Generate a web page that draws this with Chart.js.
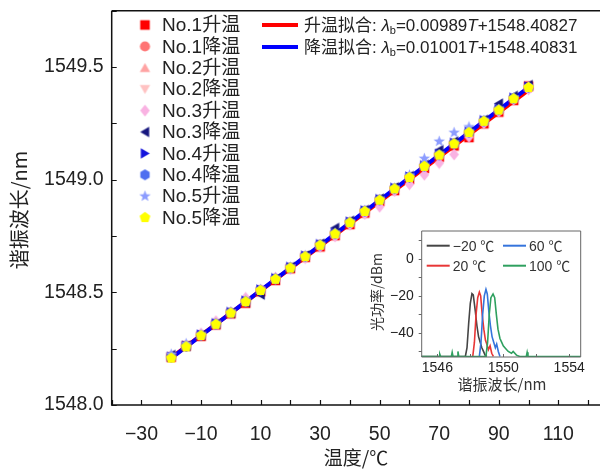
<!DOCTYPE html>
<html>
<head>
<meta charset="utf-8">
<script src="https://cdn.jsdelivr.net/npm/chart.js@4"></script>
<style>
  body { margin: 0; background: #fff; }
  #wrap { position: relative; width: 601px; height: 469px; }
  #main { position: absolute; left: 0; top: 0; }
  #inset { position: absolute; left: 360px; top: 222px; }
</style>
</head>
<body>
<div id="wrap">
  <canvas id="main" width="601" height="469"></canvas>
  <canvas id="inset" width="237" height="175"></canvas>
</div>
<script>
// temperatures (℃) and the measured resonance wavelengths (nm)
const temps = [-20,-15,-10,-5,0,5,10,15,20,25,30,35,40,45,50,55,60,65,70,75,80,85,90,95,100];

const no1Up   = [1548.212,1548.262,1548.305,1548.356,1548.405,1548.452,1548.503,1548.553,1548.605,1548.655,1548.702,1548.752,1548.801,1548.852,1548.903,1548.952,1549.001,1549.050,1549.100,1549.150,1549.187,1549.248,1549.300,1549.352,1549.415];
const no1Down = [1548.215,1548.260,1548.310,1548.360,1548.410,1548.462,1548.510,1548.560,1548.610,1548.660,1548.711,1548.760,1548.811,1548.860,1548.910,1548.960,1549.010,1549.060,1549.110,1549.160,1549.208,1549.258,1549.308,1549.358,1549.405];
const no2Up   = [1548.220,1548.266,1548.314,1548.364,1548.414,1548.466,1548.514,1548.566,1548.614,1548.664,1548.714,1548.764,1548.816,1548.866,1548.914,1548.964,1549.014,1549.064,1549.114,1549.166,1549.214,1549.264,1549.316,1549.366,1549.412];
const no2Down = [1548.210,1548.256,1548.306,1548.355,1548.406,1548.456,1548.506,1548.556,1548.606,1548.656,1548.706,1548.756,1548.806,1548.856,1548.906,1548.956,1549.006,1549.056,1549.106,1549.156,1549.206,1549.256,1549.306,1549.356,1549.406];
const no3Up   = [1548.214,1548.262,1548.318,1548.372,1548.412,1548.476,1548.508,1548.566,1548.604,1548.652,1548.702,1548.748,1548.800,1548.848,1548.880,1548.950,1548.980,1549.022,1549.074,1549.112,1549.190,1549.250,1549.302,1549.355,1549.400];
const no3Down = [1548.222,1548.262,1548.310,1548.360,1548.408,1548.455,1548.490,1548.560,1548.612,1548.664,1548.716,1548.786,1548.818,1548.866,1548.916,1548.966,1549.016,1549.066,1549.132,1549.170,1549.216,1549.266,1549.338,1549.372,1549.420];
const no4Up   = [1548.214,1548.263,1548.313,1548.363,1548.413,1548.463,1548.513,1548.563,1548.613,1548.663,1548.714,1548.764,1548.814,1548.864,1548.914,1548.964,1549.014,1549.064,1549.114,1549.164,1549.214,1549.264,1549.314,1549.364,1549.414];
const no4Down = [1548.212,1548.260,1548.309,1548.359,1548.409,1548.459,1548.509,1548.559,1548.609,1548.659,1548.710,1548.760,1548.810,1548.860,1548.910,1548.960,1549.010,1549.060,1549.110,1549.160,1549.210,1549.260,1549.310,1549.360,1549.410];
const no5Up   = [1548.225,1548.272,1548.312,1548.362,1548.412,1548.462,1548.512,1548.562,1548.612,1548.662,1548.712,1548.762,1548.812,1548.862,1548.912,1548.962,1549.020,1549.094,1549.170,1549.209,1549.234,1549.262,1549.312,1549.362,1549.410];
const no5Down = [1548.208,1548.258,1548.308,1548.358,1548.408,1548.458,1548.508,1548.558,1548.608,1548.658,1548.709,1548.759,1548.809,1548.859,1548.909,1548.959,1549.009,1549.059,1549.109,1549.159,1549.209,1549.259,1549.309,1549.359,1549.409];

const seriesNames = ['No.1升温','No.1降温','No.2升温','No.2降温','No.3升温','No.3降温','No.4升温','No.4降温','No.5升温','No.5降温'];
const seriesData = [no1Up,no1Down,no2Up,no2Down,no3Up,no3Down,no4Up,no4Down,no5Up,no5Down];
const seriesShapes = ['square','circle','up','down','diamond','left','right','hexagon','star','pentagon'];
const seriesColors = ['#ff0000','#ff7474','#ffa3a3','#ffc2c2','#f9b2e2','#16167e','#1414dc','#4f6ff0','#8c9cff','#ffff00'];

// linear fits
const fitT = [-20, 100];
const fitUp = [1548.2105, 1549.3972];
const fitDown = [1548.2081, 1549.4093];

// inset spectra: wavelength (nm) and optical power (dBm)
const wlM20 = [1545.0,1547.70,1547.80,1547.90,1548.00,1548.10,1548.18,1548.30,1548.40,1548.50,1548.60,1548.70,1548.80,1548.90,1549.00];
const pwM20 = [-52.7,-52.7,-48,-35,-24,-18.8,-19.5,-28,-36,-42,-45,-48,-50,-52,-52.7];
const wl20  = [1548.15,1548.25,1548.35,1548.45,1548.55,1548.63,1548.72,1548.82,1548.92,1549.00,1549.10,1549.20,1549.30,1549.40];
const pw20  = [-52.7,-45,-30,-21,-18,-20,-30,-38,-44,-46,-49,-47,-51,-52.7];
const wl60  = [1548.55,1548.65,1548.75,1548.85,1548.95,1549.03,1549.12,1549.22,1549.32,1549.42,1549.52,1549.60,1549.70,1549.80];
const pw60  = [-52.7,-45,-30,-20,-16.5,-19,-28,-36,-42,-45,-48,-46,-50,-52.7];
const wl100 = [1545.0,1546.10,1546.15,1546.20,1546.85,1546.90,1546.95,1547.20,1547.25,1547.30,1548.95,1549.05,1549.15,1549.25,1549.38,1549.48,1549.58,1549.68,1549.80,1549.90,1550.00,1550.10,1550.30,1550.50,1550.60,1550.80,1551.00,1551.40,1551.45,1551.50,1554.7];
const pw100 = [-52.7,-52.7,-51.5,-52.7,-52.7,-50.5,-52.7,-52.7,-50,-52.7,-52.7,-45,-30,-21,-19,-21,-30,-38,-43,-45,-47,-48,-50,-51,-50,-52,-52.7,-52.7,-50.5,-52.7,-52.7];
const specNames = ['−20 ℃','20 ℃','60 ℃','100 ℃'];
const specColors = ['#454545','#e83636','#3574dc','#2fa05f'];

const FONT = '"Liberation Sans", "Noto Sans CJK SC", sans-serif';
const CJK = '"Noto Sans CJK SC", "Liberation Sans", sans-serif';

function makeMarker(shape, color, size) {
  const c = document.createElement('canvas');
  c.width = c.height = size;
  const g = c.getContext('2d');
  const r = size / 2, R = r * 0.92;
  g.translate(r, r);
  g.fillStyle = color;
  g.beginPath();
  const poly = (n, rad, start) => {
    for (let i = 0; i < n; i++) {
      const a = start + i * 2 * Math.PI / n;
      i ? g.lineTo(rad * Math.cos(a), rad * Math.sin(a)) : g.moveTo(rad * Math.cos(a), rad * Math.sin(a));
    }
    g.closePath();
  };
  if (shape === 'square') g.rect(-R * 0.8, -R * 0.8, R * 1.6, R * 1.6);
  else if (shape === 'circle') g.arc(0, 0, R * 0.85, 0, Math.PI * 2);
  else if (shape === 'up') { g.translate(0, R * 0.2); poly(3, R, -Math.PI / 2); }
  else if (shape === 'down') { g.translate(0, -R * 0.2); poly(3, R, Math.PI / 2); }
  else if (shape === 'left') { g.translate(R * 0.2, 0); poly(3, R, Math.PI); }
  else if (shape === 'right') { g.translate(-R * 0.2, 0); poly(3, R, 0); }
  else if (shape === 'diamond') { g.moveTo(0, -R); g.lineTo(R * 0.8, 0); g.lineTo(0, R); g.lineTo(-R * 0.8, 0); g.closePath(); }
  else if (shape === 'hexagon') poly(6, R * 0.9, -Math.PI / 2);
  else if (shape === 'pentagon') poly(5, R * 0.95, -Math.PI / 2);
  else if (shape === 'star') {
    for (let i = 0; i < 10; i++) {
      const a = -Math.PI / 2 + i * Math.PI / 5, rad = i % 2 ? R * 0.42 : R;
      i ? g.lineTo(rad * Math.cos(a), rad * Math.sin(a)) : g.moveTo(rad * Math.cos(a), rad * Math.sin(a));
    }
    g.closePath();
  }
  g.fill();
  return c;
}

const markers = seriesShapes.map((s, i) => makeMarker(s, seriesColors[i], 13));

// frame & inward/outward tick marks
function frameTicks(o) {
  return {
    id: 'frameTicks',
    afterDatasetsDraw(chart) {
      const { ctx, chartArea: a, scales: { x, y } } = chart;
      ctx.save();
      ctx.strokeStyle = o.color;
      ctx.lineWidth = o.lw;
      ctx.beginPath();
      ctx.moveTo(a.left, a.top); ctx.lineTo(a.left, a.bottom); ctx.lineTo(a.right, a.bottom);
      ctx.moveTo(a.left, a.top); ctx.lineTo(a.right, a.top);
      if (o.right) { ctx.moveTo(a.right, a.top); ctx.lineTo(a.right, a.bottom); }
      ctx.stroke();
      ctx.lineWidth = o.tickLw;
      ctx.beginPath();
      x.ticks.forEach(t => {
        const px = Math.round(x.getPixelForValue(t.value)) + 0.5;
        ctx.moveTo(px, a.bottom); ctx.lineTo(px, a.bottom + o.xDir * o.len);
      });
      y.ticks.forEach(t => {
        const py = Math.round(y.getPixelForValue(t.value)) + 0.5;
        ctx.moveTo(a.left, py); ctx.lineTo(a.left + o.yDir * o.len, py);
      });
      ctx.stroke();
      ctx.restore();
    }
  };
}

const minusLabel = v => (v < 0 ? '−' + Math.abs(v) : String(v));
const noPadX = s => { s.paddingLeft = 0; s.paddingRight = 0; };
const noPadY = s => { s.paddingTop = 0; s.paddingBottom = 0; };

// main chart annotations: titles and legends
const mainDecor = {
  id: 'mainDecor',
  afterDraw(chart) {
    const ctx = chart.ctx;
    ctx.save();
    ctx.fillStyle = '#222';
    // axis titles
    ctx.font = '19px ' + CJK;
    ctx.textAlign = 'center';
    ctx.textBaseline = 'middle';
    ctx.fillText('温度/℃', 356, 458);
    ctx.save();
    ctx.translate(19, 210);
    ctx.rotate(-Math.PI / 2);
    ctx.font = '20px ' + CJK;
    ctx.fillText('谐振波长/nm', 0, 0);
    ctx.restore();
    // marker legend
    ctx.textAlign = 'left';
    ctx.font = '19px ' + FONT;
    seriesNames.forEach((n, i) => {
      const yy = 25 + i * 21.4;
      ctx.drawImage(markers[i], 145 - 6.5, yy - 6.5, 13, 13);
      ctx.fillText(n, 162, yy + 1);
    });
    // fit legend
    const fits = [['升温拟合: ', '=0.00989', '+1548.40827', '#ff0000', 25],
                  ['降温拟合: ', '=0.01001', '+1548.40831', '#0000ff', 47]];
    fits.forEach(f => {
      ctx.strokeStyle = f[3];
      ctx.lineWidth = 4;
      ctx.beginPath(); ctx.moveTo(262, f[4]); ctx.lineTo(298, f[4]); ctx.stroke();
      let xx = 304;
      const put = (txt, font, dy) => { ctx.font = font; ctx.fillText(txt, xx, f[4] + 1 + dy); xx += ctx.measureText(txt).width; };
      put(f[0], '17px ' + FONT, 0);
      put('λ', 'italic 17px ' + FONT, 0);
      put('b', '11px ' + FONT, 5);
      put(f[1], '17px ' + FONT, 0);
      put('T', 'italic 17px ' + FONT, 0);
      put(f[2], '17px ' + FONT, 0);
    });
    ctx.restore();
  }
};

const mainSets = seriesNames.map((n, i) => ({
  label: n,
  data: temps.map((t, k) => ({ x: t, y: seriesData[i][k] })),
  showLine: false,
  pointStyle: markers[i],
  pointRadius: 6,
  order: 10 - i
}));
mainSets.push({
  label: '升温拟合', data: fitT.map((t, k) => ({ x: t, y: fitUp[k] })),
  showLine: true, borderColor: '#ff0000', borderWidth: 4, pointRadius: 0, order: 21
});
mainSets.push({
  label: '降温拟合', data: fitT.map((t, k) => ({ x: t, y: fitDown[k] })),
  showLine: true, borderColor: '#0000ff', borderWidth: 4, pointRadius: 0, order: 20
});

new Chart('main', {
  type: 'scatter',
  data: { datasets: mainSets },
  options: {
    responsive: false,
    animation: false,
    layout: { autoPadding: false, padding: { top: 10.7, right: 1, left: 0, bottom: 0 } },
    plugins: { legend: { display: false }, tooltip: { enabled: false } },
    scales: {
      x: {
        type: 'linear', min: -40, max: 124,
        grid: { display: false, drawTicks: false }, border: { display: false },
        ticks: {
          stepSize: 10, includeBounds: false, autoSkip: false, maxRotation: 0, padding: 18,
          color: '#222', font: { family: FONT, size: 19.5 },
          callback: v => (Math.abs(v) % 20 === 10 ? minusLabel(v) : '')
        },
        afterFit(s) { s.height = 64; noPadX(s); }
      },
      y: {
        type: 'linear', min: 1548, max: 1549.75,
        grid: { display: false, drawTicks: false }, border: { display: false },
        ticks: {
          stepSize: 0.25, includeBounds: false, autoSkip: false, padding: 8,
          color: '#222', font: { family: FONT, size: 19.5 },
          callback: v => (Math.abs(v * 2 - Math.round(v * 2)) < 1e-6 ? v.toFixed(1) : '')
        },
        afterFit(s) { s.width = 111.7; noPadY(s); }
      }
    }
  },
  plugins: [frameTicks({ color: '#111', lw: 1.5, tickLw: 1.2, len: 5, xDir: -1, yDir: 1, right: false }), mainDecor]
});

// inset
const insetDecor = {
  id: 'insetDecor',
  beforeDraw(chart) {
    const ctx = chart.ctx;
    ctx.save(); ctx.fillStyle = '#fff'; ctx.fillRect(0, 0, chart.width, chart.height); ctx.restore();
  },
  afterDraw(chart) {
    const ctx = chart.ctx;
    const ox = 360, oy = 222;
    ctx.save();
    ctx.fillStyle = '#333';
    ctx.textBaseline = 'middle';
    ctx.textAlign = 'center';
    ctx.font = '15px ' + CJK;
    ctx.fillText('谐振波长/nm', 502 - ox, 384 - oy);
    ctx.save();
    ctx.translate(377 - ox, 292 - oy);
    ctx.rotate(-Math.PI / 2);
    ctx.font = '14px ' + CJK;
    ctx.fillText('光功率/dBm', 0, 0);
    ctx.restore();
    ctx.textAlign = 'left';
    ctx.font = '14px ' + FONT;
    const pos = [[426.7, 245.7], [426.7, 265.7], [503, 245.7], [503, 265.7]];
    specNames.forEach((n, i) => {
      const [lx, ly] = pos[i];
      ctx.strokeStyle = specColors[i];
      ctx.lineWidth = 2;
      ctx.beginPath(); ctx.moveTo(lx - ox, ly - oy); ctx.lineTo(lx + 23 - ox, ly - oy); ctx.stroke();
      ctx.fillText(n, lx + 26 - ox, ly - oy + 1);
    });
    ctx.restore();
  }
};

const specWl = [wlM20, wl20, wl60, wl100];
const specPw = [pwM20, pw20, pw60, pw100];

new Chart('inset', {
  type: 'line',
  data: {
    datasets: specNames.map((n, i) => ({
      label: n,
      data: specWl[i].map((w, k) => ({ x: w, y: specPw[i][k] })),
      borderColor: specColors[i], borderWidth: 1.6, pointRadius: 0, tension: 0,
      order: 4 - i
    }))
  },
  options: {
    responsive: false,
    animation: false,
    layout: { autoPadding: false, padding: { top: 9, right: 16.3, left: 0, bottom: 0 } },
    plugins: { legend: { display: false }, tooltip: { enabled: false } },
    scales: {
      x: {
        type: 'linear', min: 1545.05, max: 1554.7,
        grid: { display: false, drawTicks: false }, border: { display: false },
        ticks: {
          stepSize: 2, includeBounds: false, autoSkip: false, maxRotation: 0, padding: 3,
          color: '#222', font: { family: FONT, size: 14 },
          callback: v => ((v - 1546) % 4 === 0 ? String(v) : '')
        },
        afterFit(s) { s.height = 40; noPadX(s); }
      },
      y: {
        type: 'linear', min: -53, max: 15,
        grid: { display: false, drawTicks: false }, border: { display: false },
        ticks: {
          stepSize: 10, includeBounds: false, autoSkip: false, padding: 8,
          color: '#222', font: { family: FONT, size: 14 },
          callback: v => (v % 20 === 0 ? minusLabel(v) : '')
        },
        afterFit(s) { s.width = 61.7; noPadY(s); }
      }
    }
  },
  plugins: [insetDecor, frameTicks({ color: '#666', lw: 1, tickLw: 1, len: 3, xDir: -1, yDir: -1, right: true })]
});
</script>
</body>
</html>
